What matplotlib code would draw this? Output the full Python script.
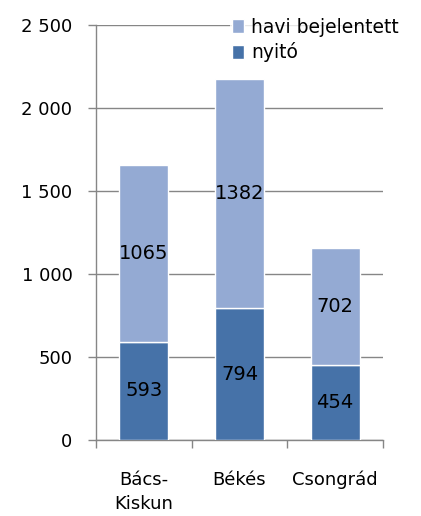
import numpy as np
import matplotlib
matplotlib.use('Agg')
import matplotlib.pyplot as plt

# data
counties = ['Bács-\nKiskun', 'Békés', 'Csongrád']
nyito = [593, 794, 454]
havi = [1065, 1382, 702]

dark = '#4672A8'
light = '#94AAD3'
grey = '#868686'

plt.rcParams['font.family'] = ['DejaVu Sans']

fig = plt.figure(figsize=(4.21, 5.16), dpi=100)
ax = fig.add_axes([96/421, (516-440)/516, (383-96)/421, (440-25)/516])

x = np.arange(len(counties))
w = 0.51
b1 = ax.bar(x, nyito, w, color=dark, edgecolor='white', linewidth=1, zorder=3, label='nyitó')
b2 = ax.bar(x, havi, w, bottom=nyito, color=light, edgecolor='white', linewidth=1, zorder=3,
            label='havi bejelentett')

for i in range(len(x)):
    ax.text(x[i], nyito[i] / 2, str(nyito[i]), ha='center', va='center', fontsize=14, zorder=4)
    ax.text(x[i], nyito[i] + havi[i] / 2, str(havi[i]), ha='center', va='center', fontsize=14, zorder=4)

ax.set_xlim(-0.5, 2.5)
ax.set_ylim(0, 2500)
ax.set_yticks(np.arange(0, 2501, 500))
ax.set_yticklabels(['0', '500', '1 000', '1 500', '2 000', '2 500'], fontsize=13)
ax.yaxis.grid(True, color=grey, linewidth=1, zorder=0)
ax.tick_params(axis='y', length=6, color=grey, width=1, pad=11)

ax.set_xticks(x)
ax.set_xticklabels(counties, fontsize=13, linespacing=1.45)
ax.tick_params(axis='x', length=0, pad=22)
ax.set_xticks([-0.5, 0.5, 1.5, 2.5], minor=True)
ax.tick_params(axis='x', which='minor', length=6, color=grey, width=1)

for s in ['top', 'right']:
    ax.spines[s].set_visible(False)
for s in ['left', 'bottom']:
    ax.spines[s].set_color(grey)
    ax.spines[s].set_linewidth(1)

handles = [b2, b1]
leg = ax.legend(handles, ['havi bejelentett', 'nyitó'], loc='upper left',
                bbox_to_anchor=(0.435, 1.045), frameon=True, facecolor='white',
                edgecolor='none', fancybox=False, fontsize=13.5, handlelength=0.65,
                handleheight=0.8, handletextpad=0.35, borderpad=0.1, labelspacing=0.3)
leg.set_zorder(5)

fig.savefig('out.png', dpi=100)
